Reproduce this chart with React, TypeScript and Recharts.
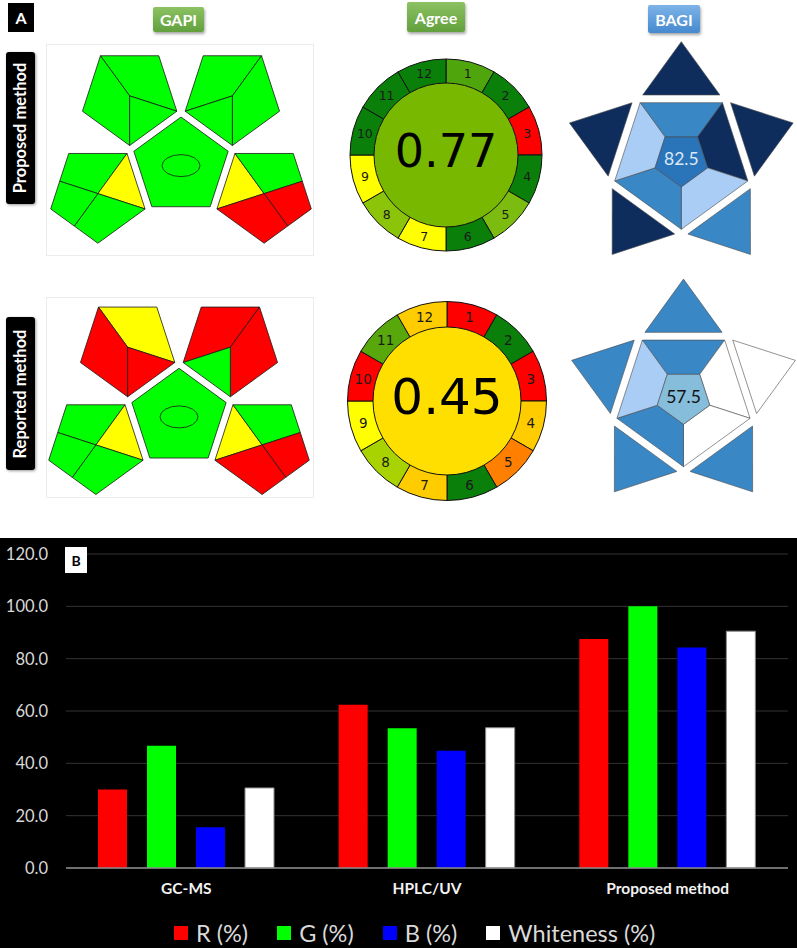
import React from 'react'
import {
  BarChart, Bar, XAxis, YAxis, CartesianGrid, Legend,
  PieChart, Pie, Cell, ScatterChart, Scatter,
} from 'recharts'

// ---------- panel B: RGB / whiteness scores ----------
const methods = ['GC-MS', 'HPLC/UV', 'Proposed method']
const redScores = [30.0, 62.4, 87.5]
const greenScores = [46.7, 53.4, 100.0]
const blueScores = [15.6, 44.8, 84.3]
const whitenessScores = [30.6, 53.6, 90.5]
const yTicks = [0, 20, 40, 60, 80, 100, 120]
const legendOrder = ['R (%)', 'G (%)', 'B (%)', 'Whiteness (%)']

// ---------- AGREE ----------
const agreeCriteria = ['1', '2', '3', '4', '5', '6', '7', '8', '9', '10', '11', '12']
const agreeProposedColors = [
  '#4ea60c', '#0a7f0a', '#ff0000', '#0a7f0a', '#7cbb10', '#0a7f0a',
  '#ffff00', '#8cc40a', '#ffff00', '#0a7f0a', '#0a7f0a', '#0a7f0a',
]
const agreeReportedColors = [
  '#ff0000', '#0a7f0a', '#ff0000', '#ffcc00', '#ff8000', '#0a7f0a',
  '#ffcc00', '#a8d200', '#ffff00', '#ff0000', '#58a80c', '#ffcc00',
]
const agreeProposedScore = '0.77'
const agreeReportedScore = '0.45'
const agreeProposedCentre = '#78b800'
const agreeReportedCentre = '#ffdf00'

// ---------- GAPI (G = green, Y = yellow, R = red) ----------
const gapiProposedTopLeft = ['G', 'G', 'G']
const gapiProposedTopRight = ['G', 'G', 'G']
const gapiProposedBottomLeft = ['G', 'Y', 'G', 'G']
const gapiProposedBottomRight = ['Y', 'G', 'R', 'R']
const gapiProposedCentre = ['G']
const gapiReportedTopLeft = ['Y', 'R', 'R']
const gapiReportedTopRight = ['R', 'R', 'G']
const gapiReportedBottomLeft = ['G', 'Y', 'G', 'G']
const gapiReportedBottomRight = ['Y', 'G', 'R', 'R']
const gapiReportedCentre = ['G']

// ---------- BAGI (points: top, upper-right, lower-right, lower-left, upper-left) ----------
const bagiProposedPoints = [10, 10, 7.5, 10, 10]
const bagiProposedSides = [7.5, 10, 5, 7.5, 5]
const bagiProposedTotal = 82.5
const bagiReportedPoints = [7.5, 2.5, 7.5, 7.5, 7.5]
const bagiReportedSides = [7.5, 2.5, 2.5, 7.5, 5]
const bagiReportedTotal = 57.5

const RATING_FILL: Record<string, string> = { G: '#00ff00', Y: '#ffff00', R: '#ff0000' }
const BAGI_FILL: Record<string, string> = { '10': '#0f2d5c', '7.5': '#3a87c5', '5': '#aacdf5', '2.5': '#ffffff' }

type Pt = [number, number]
const RAD = Math.PI / 180
const at = (cx: number, cy: number, r: number, deg: number): Pt =>
  [cx + r * Math.cos(deg * RAD), cy + r * Math.sin(deg * RAD)]
const mid = (a: Pt, b: Pt): Pt => [(a[0] + b[0]) / 2, (a[1] + b[1]) / 2]
const pts = (p: Pt[]) => p.map((q) => `${q[0].toFixed(2)},${q[1].toFixed(2)}`).join(' ')

// ---------- GAPI glyph ----------
const GAPI_R = 49.6
const GAPI_STEP = 87.4
const gapiDirs: Record<string, number> = { TL: -36, TR: 36, BL: -108, BR: 108 }

const gapiPieces = (kind: string, C: Pt, v: Pt[]): Pt[][] => {
  const [TL, TR, Rv, Bv, Lv] = v
  if (kind === 'TL') return [[TL, TR, Rv, C], [TL, C, Bv, Lv], [C, Rv, Bv]]
  if (kind === 'TR') return [[TL, TR, C, Lv], [TR, Rv, Bv, C], [Lv, C, Bv]]
  if (kind === 'BL') {
    const mL = mid(TL, Lv), mB = mid(Lv, Bv)
    return [[mL, TL, TR, C], [TR, Rv, C], [C, Rv, Bv, mB], [mL, C, mB, Lv]]
  }
  const mR = mid(TR, Rv), mB = mid(Rv, Bv)
  return [[TL, C, Lv], [TL, TR, mR, C], [C, mR, Rv, mB], [Lv, C, mB, Bv]]
}

const GapiGlyph = (props: any) => {
  const { cx, cy, payload } = props
  const C: Pt = [cx, cy]
  if (payload.kind === 'C') {
    const v = [-90, -18, 54, 126, 198].map((d) => at(cx, cy, GAPI_R, d))
    return (
      <g>
        <polygon points={pts(v)} fill={RATING_FILL[payload.ratings[0]]} stroke="#1a1a1a" strokeWidth={0.8} />
        <ellipse cx={cx} cy={cy - 1} rx={19} ry={11} fill="none" stroke="#1a1a1a" strokeWidth={0.8} />
      </g>
    )
  }
  const v = [234, 306, 18, 90, 162].map((d) => at(cx, cy, GAPI_R, d))
  return (
    <g>
      {gapiPieces(payload.kind, C, v).map((p, i) => (
        <polygon key={i} points={pts(p)} fill={RATING_FILL[payload.ratings[i]]}
          stroke="#1a1a1a" strokeWidth={0.8} strokeLinejoin="round" />
      ))}
    </g>
  )
}

const gapiData = (cx: number, cy: number, parts: Record<string, string[]>) =>
  Object.keys(parts).map((k) => {
    const a = gapiDirs[k]
    const x = k === 'C' ? cx : cx + GAPI_STEP * Math.sin(a * RAD)
    const y = k === 'C' ? cy : cy - GAPI_STEP * Math.cos(a * RAD)
    return { x, y, kind: k, ratings: parts[k] }
  })

const GapiChart = ({ w, h, cx, cy, parts }: any) => (
  <ScatterChart width={w} height={h} margin={{ top: 0, right: 0, bottom: 0, left: 0 }}>
    <XAxis type="number" dataKey="x" domain={[0, w]} hide />
    <YAxis type="number" dataKey="y" domain={[0, h]} reversed hide />
    <Scatter data={gapiData(cx, cy, parts)} shape={GapiGlyph} isAnimationActive={false} />
  </ScatterChart>
)

// ---------- BAGI glyph ----------
const BagiGlyph = (props: any) => {
  const { cx, cy, payload } = props
  const order = [234, 306, 18, 90, 162]
  const outer = order.map((d) => at(cx, cy, 70, d))
  const inner = order.map((d) => at(cx, cy, 27.6, d))
  const g = 7.7, h = 53.3, hb = 38.6
  const stroke = '#4a4a4a'
  return (
    <g>
      {outer.map((a, i) => {
        const b = outer[(i + 1) % 5]
        const m = mid(a, b)
        const len = Math.hypot(b[0] - a[0], b[1] - a[1])
        const tx = (b[0] - a[0]) / len, ty = (b[1] - a[1]) / len
        const d = Math.hypot(m[0] - cx, m[1] - cy)
        const nx = (m[0] - cx) / d, ny = (m[1] - cy) / d
        const tri: Pt[] = [
          [m[0] + g * nx - hb * tx, m[1] + g * ny - hb * ty],
          [m[0] + g * nx + hb * tx, m[1] + g * ny + hb * ty],
          [m[0] + (g + h) * nx, m[1] + (g + h) * ny],
        ]
        return (
          <polygon key={'t' + i} points={pts(tri)} fill={BAGI_FILL[String(payload.points[i])]}
            stroke={stroke} strokeWidth={0.6} />
        )
      })}
      {outer.map((a, i) => {
        const j = (i + 1) % 5
        return (
          <polygon key={'q' + i} points={pts([a, outer[j], inner[j], inner[i]])}
            fill={BAGI_FILL[String(payload.sides[i])]} stroke={stroke} strokeWidth={0.6} />
        )
      })}
      <polygon points={pts(inner)} fill={payload.centre} stroke={stroke} strokeWidth={0.6} />
      <text x={cx} y={cy + 6} textAnchor="middle" fontSize={17.5} fontFamily="Lato"
        fill={payload.textColor}>{payload.total.toFixed(1)}</text>
    </g>
  )
}

const BagiChart = ({ w, h, cx, cy, points, sides, total, centre, textColor }: any) => (
  <ScatterChart width={w} height={h} margin={{ top: 0, right: 0, bottom: 0, left: 0 }}>
    <XAxis type="number" dataKey="x" domain={[0, w]} hide />
    <YAxis type="number" dataKey="y" domain={[0, h]} reversed hide />
    <Scatter data={[{ x: cx, y: cy, points, sides, total, centre, textColor }]}
      shape={BagiGlyph} isAnimationActive={false} />
  </ScatterChart>
)

// ---------- AGREE pictogram ----------
const AgreeChart = ({ size, outer, inner, colors, score, centre, numSize, scoreSize }: any) => {
  const ring = agreeCriteria.map((c) => ({ name: c, value: 1 }))
  const c = size / 2
  return (
    <PieChart width={size} height={size} margin={{ top: 0, right: 0, bottom: 0, left: 0 }}>
      <Pie data={[{ name: 'score', value: 1 }]} dataKey="value" cx={c} cy={c} innerRadius={0}
        outerRadius={inner} startAngle={90} endAngle={-270} stroke="none"
        fill={centre} isAnimationActive={false} labelLine={false}
        label={(p: any) => (
          <text x={p.cx} y={p.cy + scoreSize * 0.26} textAnchor="middle" fontSize={scoreSize}
            fontFamily="DejaVu Sans" fill="#000">{score}</text>
        )}
      />
      <Pie data={ring} dataKey="value" cx={c} cy={c} innerRadius={inner} outerRadius={outer}
        startAngle={90} endAngle={-270} stroke="#111" strokeWidth={1} isAnimationActive={false}
        labelLine={false}
        label={(p: any) => {
          const r = (p.innerRadius + p.outerRadius) / 2
          const x = p.cx + r * Math.cos(-p.midAngle * RAD)
          const y = p.cy + r * Math.sin(-p.midAngle * RAD)
          return (
            <text x={x} y={y} textAnchor="middle" dominantBaseline="central"
              fontSize={numSize} fontFamily="DejaVu Sans" fill="#1a1a1a">{agreeCriteria[p.index]}</text>
          )
        }}
      >
        {ring.map((r, i) => <Cell key={r.name} fill={colors[i]} />)}
      </Pie>
    </PieChart>
  )
}

// ---------- small decorations ----------
const Tag = ({ left, top, w, h, text, bg }: any) => (
  <div style={{
    position: 'absolute', left, top, width: w, height: h, background: bg, borderRadius: 2,
    boxShadow: '1px 2px 3px rgba(0,0,0,0.35)', color: '#fff', fontWeight: 700, fontSize: 16,
    fontFamily: 'Lato', display: 'flex', alignItems: 'center', justifyContent: 'center',
  }}>{text}</div>
)

const SideLabel = ({ top, h, text }: any) => (
  <div style={{
    position: 'absolute', left: 6, top, width: 29, height: h, background: '#000', borderRadius: 3,
    boxShadow: '1px 1px 3px rgba(0,0,0,0.4)', display: 'flex', alignItems: 'center', justifyContent: 'center',
  }}>
    <span style={{
      transform: 'rotate(-90deg)', whiteSpace: 'nowrap', color: '#fff', fontWeight: 700,
      fontSize: 16.5, fontFamily: 'Lato',
    }}>{text}</span>
  </div>
)

const renderLegend = (props: any) => {
  const items = [...props.payload].sort(
    (a: any, b: any) => legendOrder.indexOf(a.value) - legendOrder.indexOf(b.value),
  )
  return (
    <div style={{
      width: 797, height: 40, paddingTop: 10, paddingLeft: 174, boxSizing: 'border-box',
      display: 'flex', alignItems: 'center',
    }}>
      {items.map((e: any) => (
        <div key={e.value} style={{ display: 'flex', alignItems: 'center', marginRight: 29 }}>
          <span style={{ width: 14, height: 14, background: e.color, marginRight: 8, display: 'inline-block' }} />
          <span style={{ color: '#d9d9d9', fontSize: 23.5, fontFamily: 'Lato', lineHeight: '30px' }}>{e.value}</span>
        </div>
      ))}
    </div>
  )
}

const App = () => {
  const barRows = methods.map((m, i) => ({
    method: m, r: redScores[i], g: greenScores[i], b: blueScores[i], w: whitenessScores[i],
  }))
  return (
    <div style={{
      position: 'absolute', left: 0, top: 0, width: 797, height: 948, background: '#fff',
      overflow: 'hidden', fontFamily: 'Lato',
    }}>
      {/* panel A */}
      <div style={{
        position: 'absolute', left: 8, top: 3, width: 26, height: 29, background: '#000', color: '#fff',
        fontWeight: 700, fontSize: 16, display: 'flex', alignItems: 'center', justifyContent: 'center',
      }}>A</div>
      <Tag left={153} top={7} w={51} h={25} text="GAPI" bg="linear-gradient(#8cc262, #62a03d)" />
      <Tag left={407} top={2} w={58} h={30} text="Agree" bg="linear-gradient(#8cc262, #62a03d)" />
      <Tag left={648} top={5} w={52} h={28} text="BAGI" bg="linear-gradient(#7db4e8, #4589cf)" />
      <SideLabel top={52} h={152} text="Proposed method" />
      <SideLabel top={317} h={153} text="Reported method" />

      <div style={{ position: 'absolute', left: 47, top: 45, width: 266, height: 210, outline: '1px solid #ececec' }}>
        <GapiChart w={266} h={210} cx={134} cy={121.6} parts={{
          TL: gapiProposedTopLeft, TR: gapiProposedTopRight, C: gapiProposedCentre,
          BL: gapiProposedBottomLeft, BR: gapiProposedBottomRight,
        }} />
      </div>
      <div style={{ position: 'absolute', left: 47, top: 298, width: 266, height: 199, outline: '1px solid #ececec' }}>
        <GapiChart w={266} h={199} cx={132} cy={119.9} parts={{
          TL: gapiReportedTopLeft, TR: gapiReportedTopRight, C: gapiReportedCentre,
          BL: gapiReportedBottomLeft, BR: gapiReportedBottomRight,
        }} />
      </div>

      <div style={{ position: 'absolute', left: 346, top: 55 }}>
        <AgreeChart size={200} outer={96} inner={72} colors={agreeProposedColors}
          score={agreeProposedScore} centre={agreeProposedCentre} numSize={12.5} scoreSize={46} />
      </div>
      <div style={{ position: 'absolute', left: 347, top: 301 }}>
        <AgreeChart size={200} outer={99.5} inner={74} colors={agreeReportedColors}
          score={agreeReportedScore} centre={agreeReportedCentre} numSize={13.5} scoreSize={50} />
      </div>

      <div style={{ position: 'absolute', left: 560, top: 30 }}>
        <BagiChart w={237} h={235} cx={121.3} cy={129.3} points={bagiProposedPoints}
          sides={bagiProposedSides} total={bagiProposedTotal} centre="#2a74ba" textColor="#dce9f7" />
      </div>
      <div style={{ position: 'absolute', left: 560, top: 265 }}>
        <BagiChart w={237} h={240} cx={123.5} cy={131.7} points={bagiReportedPoints}
          sides={bagiReportedSides} total={bagiReportedTotal} centre="#86bddb" textColor="#111" />
      </div>

      {/* panel B */}
      <div style={{ position: 'absolute', left: 0, top: 538, width: 797, height: 410, background: '#000' }}>
        <BarChart width={797} height={410} data={barRows} barSize={29} barGap={20}
          margin={{ top: 16, right: 9, bottom: 0, left: 0 }}>
          <CartesianGrid vertical={false} stroke="#333333" />
          <XAxis dataKey="method" interval={0} height={40} tickLine={false} tickSize={0} tickMargin={15}
            axisLine={{ stroke: '#8c8c8c', strokeWidth: 1.5 }}
            tick={{ fill: '#f2f2f2', fontSize: 15.5, fontWeight: 700, fontFamily: 'Lato' }} />
          <YAxis domain={[0, 120]} ticks={yTicks} width={66} axisLine={false} tickLine={false}
            tickSize={0} tickMargin={18} tickFormatter={(v: number) => v.toFixed(1)}
            tick={{ fill: '#d9d9d9', fontSize: 16.5, fontFamily: 'Lato' }} />
          <Bar dataKey="r" name="R (%)" fill="#ff0000" isAnimationActive={false} />
          <Bar dataKey="g" name="G (%)" fill="#00ff00" isAnimationActive={false} />
          <Bar dataKey="b" name="B (%)" fill="#0000ff" isAnimationActive={false} />
          <Bar dataKey="w" name="Whiteness (%)" fill="#ffffff" stroke="#8a8a8a" strokeWidth={1}
            isAnimationActive={false} />
          <Legend verticalAlign="bottom" content={renderLegend} wrapperStyle={{ left: 0, width: 797 }} />
        </BarChart>
        <div style={{
          position: 'absolute', left: 65, top: 9, width: 22, height: 26, background: '#fff', color: '#000',
          fontWeight: 700, fontSize: 14, display: 'flex', alignItems: 'center', justifyContent: 'center',
        }}>B</div>
      </div>
    </div>
  )
}

export default App
